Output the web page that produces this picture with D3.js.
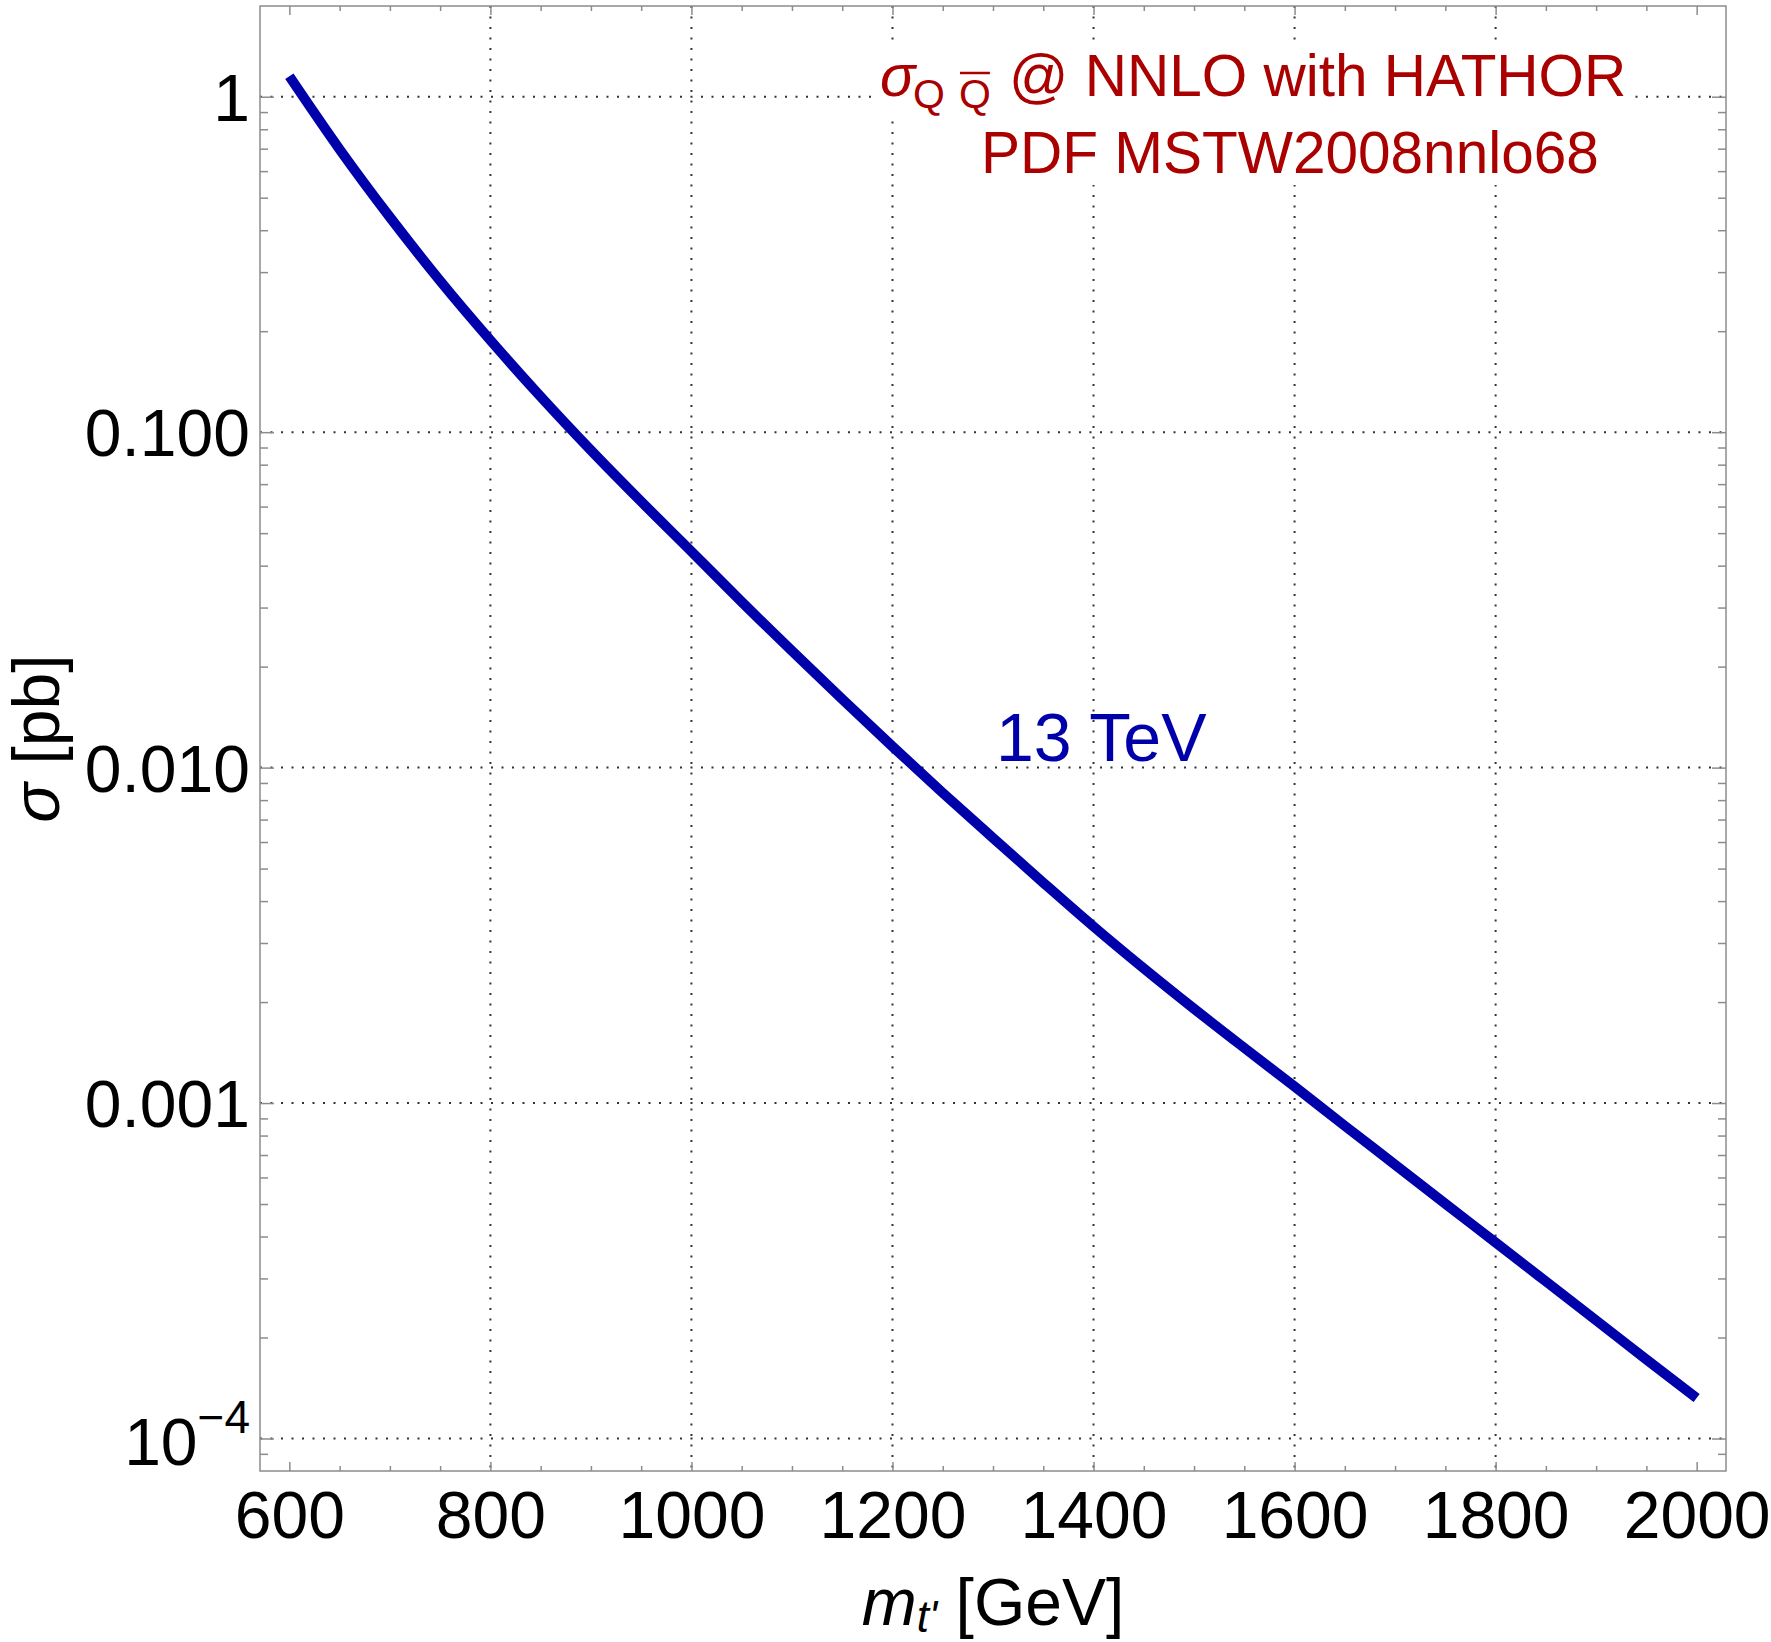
<!DOCTYPE html>
<html>
<head>
<meta charset="utf-8">
<script src="https://cdn.jsdelivr.net/npm/d3@7"></script>
<style>
  body { margin: 0; background: #fff; }
  text { font-family: "Liberation Sans", Arial, Helvetica, sans-serif; }
</style>
</head>
<body>
<div id="chart"></div>
<script>
// heavy quark pair cross section, 13 TeV
const massGeV = [600, 650, 700, 750, 800, 850, 900, 950, 1000, 1050, 1100, 1150, 1200, 1250, 1300,
  1350, 1400, 1450, 1500, 1550, 1600, 1650, 1700, 1750, 1800, 1850, 1900, 1950, 2000];
const sigmaPb = [1.151, 0.697, 0.4375, 0.2825, 0.1879, 0.1276, 0.0883, 0.0621, 0.0441, 0.0312,
  0.02228, 0.0160, 0.01156, 0.00841, 0.00617, 0.00454, 0.00336, 0.00252, 0.00191, 0.00146,
  0.00112, 0.000855, 0.000655, 0.000501, 0.000384, 0.000294, 0.000225, 0.000172, 0.000132];

const xTicks = [600, 800, 1000, 1200, 1400, 1600, 1800, 2000];
const xGrid = [800, 1000, 1200, 1400, 1600, 1800];
const yTicks = [1, 0.1, 0.01, 0.001, 1e-4];
const yTickLabels = ['1', '0.100', '0.010', '0.001', '10^-4'];

const seriesLabel = '13 TeV';
const titleLine2 = 'PDF MSTW2008nnlo68';

const width = 1771,
      height = 1642,
      margins = { top: 6, right: 45, bottom: 171, left: 260 };

const lineColor = '#0000aa',
      titleColor = '#aa0000',
      frameColor = '#8c8c8c';

let $svg, $g;

function minorX() {
  return d3.range(600, 2001, 50).filter(d => d % 200 !== 0);
}

function minorY(domain) {
  let out = [];
  for (let k = -5; k <= 0; k++) {
    for (let m = 2; m <= 9; m++) {
      let v = m * Math.pow(10, k);
      if (v > domain[0] * 1.01 && v < domain[1]) out.push(v);
    }
  }
  return out;
}

function constructChart() {
  const innerW = width - margins.left - margins.right;
  const innerH = height - margins.top - margins.bottom;

  const x = d3.scaleLinear().domain([570.8, 2029.2]).range([0, innerW]);
  const y = d3.scaleLog().domain([8.0e-5, 1.864]).range([innerH, 0]);

  $svg = d3.select('#chart').append('svg')
    .attr('width', width)
    .attr('height', height);

  $g = $svg.append('g')
    .attr('transform', `translate(${margins.left},${margins.top})`);

  // dotted grid
  $g.append('g').selectAll('line')
    .data(xGrid)
    .enter().append('line')
    .attr('x1', d => x(d)).attr('x2', d => x(d))
    .attr('y1', 0).attr('y2', innerH);

  $g.append('g').selectAll('line')
    .data(yTicks)
    .enter().append('line')
    .attr('x1', 0).attr('x2', innerW)
    .attr('y1', d => y(d)).attr('y2', d => y(d));

  $g.selectAll('g line')
    .attr('stroke', '#333')
    .attr('stroke-width', 2)
    .attr('stroke-dasharray', '2,8.5');

  // ticks on all four sides, pointing inward
  const yMinor = minorY(y.domain());
  const tickAxes = [
    [d3.axisBottom(x).tickValues(minorX()).tickSize(-5), `translate(0,${innerH})`],
    [d3.axisTop(x).tickValues(minorX()).tickSize(-5), 'translate(0,0)'],
    [d3.axisTop(x).tickValues(xTicks).tickSize(-9), 'translate(0,0)'],
    [d3.axisLeft(y).tickValues(yMinor).tickSize(-8), 'translate(0,0)'],
    [d3.axisRight(y).tickValues(yMinor).tickSize(-8), `translate(${innerW},0)`],
    [d3.axisLeft(y).tickValues(yTicks).tickSize(-14), 'translate(0,0)'],
    [d3.axisRight(y).tickValues(yTicks).tickSize(-14), `translate(${innerW},0)`]
  ];
  tickAxes.forEach(([axis, tr]) => {
    let a = $g.append('g').attr('transform', tr).call(axis.tickFormat(''));
    a.select('.domain').remove();
    a.selectAll('line').attr('stroke', frameColor).attr('stroke-width', 1.5);
  });

  // labelled axes
  let $xAxis = $g.append('g')
    .attr('transform', `translate(0,${innerH})`)
    .call(d3.axisBottom(x).tickValues(xTicks).tickSize(-9).tickPadding(20).tickFormat(d => d));

  let $yAxis = $g.append('g')
    .call(d3.axisLeft(y).tickValues(yTicks).tickSize(0).tickPadding(10)
      .tickFormat((d, i) => yTickLabels[i]));

  [$xAxis, $yAxis].forEach(a => {
    a.select('.domain').remove();
    a.selectAll('line').attr('stroke', frameColor).attr('stroke-width', 1.5);
    a.selectAll('text')
      .attr('font-family', '"Liberation Sans", Arial, sans-serif')
      .attr('font-size', 66)
      .attr('fill', '#000');
  });

  $yAxis.selectAll('text').attr('dy', '0.36em');

  // 10^-4 with superscript
  $yAxis.selectAll('text')
    .filter(d => d === 1e-4)
    .text(null)
    .attr('dy', '0.4em')
    .call(t => {
      t.append('tspan').text('10');
      t.append('tspan').attr('font-size', 46).attr('dy', -32).text('\u22124');
    });

  // frame
  $g.append('rect')
    .attr('width', innerW)
    .attr('height', innerH)
    .attr('fill', 'none')
    .attr('stroke', frameColor)
    .attr('stroke-width', 1.5);

  // the curve
  const line = d3.line()
    .x((d, i) => x(massGeV[i]))
    .y(d => y(d))
    .curve(d3.curveMonotoneX);

  $g.append('path')
    .datum(sigmaPb)
    .attr('d', line)
    .attr('fill', 'none')
    .attr('stroke', lineColor)
    .attr('stroke-width', 10)
    .attr('stroke-linejoin', 'round')
    .attr('stroke-linecap', 'butt');

  $g.append('text')
    .attr('x', x(1305) - 2)
    .attr('y', y(0.01) - 7)
    .attr('font-size', 68)
    .attr('fill', lineColor)
    .text(seriesLabel);

  // title, two lines on white boxes
  let $boxes = $svg.append('g');
  let $t1 = $svg.append('text')
    .attr('y', 96)
    .attr('font-size', 58.5)
    .attr('fill', titleColor);
  $t1.append('tspan').attr('x', 880).attr('font-style', 'italic').text('\u03c3');
  $t1.append('tspan').attr('x', 913).attr('font-size', 41).attr('dy', 12).text('Q');
  $t1.append('tspan').attr('x', 959).attr('font-size', 41).text('Q');
  $t1.append('tspan').attr('x', 1009).attr('dy', -12).text('@ NNLO with HATHOR');

  let $t2 = $svg.append('text')
    .attr('x', 981)
    .attr('y', 173)
    .attr('font-size', 58.5)
    .attr('fill', titleColor)
    .text(titleLine2);

  [$t1, $t2].forEach(t => {
    let b = t.node().getBBox();
    $boxes.append('rect')
      .attr('x', b.x - 5).attr('y', b.y - 3)
      .attr('width', b.width + 10).attr('height', b.height + 3)
      .attr('fill', '#fff');
  });

  // bar over the second Q
  let qi = 2;
  let s = $t1.node().getStartPositionOfChar(qi);
  let e = $t1.node().getEndPositionOfChar(qi);
  $svg.append('line')
    .attr('x1', s.x + 1).attr('x2', e.x - 1)
    .attr('y1', 73).attr('y2', 73)
    .attr('stroke', titleColor)
    .attr('stroke-width', 2.5);

  // axis titles
  let $xl = $svg.append('text')
    .attr('x', margins.left + innerW / 2)
    .attr('y', 1625)
    .attr('text-anchor', 'middle')
    .attr('font-size', 66);
  $xl.append('tspan').attr('font-style', 'italic').text('m');
  $xl.append('tspan').attr('font-style', 'italic').attr('font-size', 44).attr('dy', 7).text("t'");
  $xl.append('tspan').attr('dy', -7).text(' [GeV]');

  let $yl = $svg.append('text')
    .attr('transform', `translate(59,${margins.top + innerH / 2}) rotate(-90)`)
    .attr('text-anchor', 'middle')
    .attr('font-size', 66);
  $yl.append('tspan').attr('font-style', 'italic').text('\u03c3');
  $yl.append('tspan').text(' [pb]');
}

constructChart();
</script>
</body>
</html>
